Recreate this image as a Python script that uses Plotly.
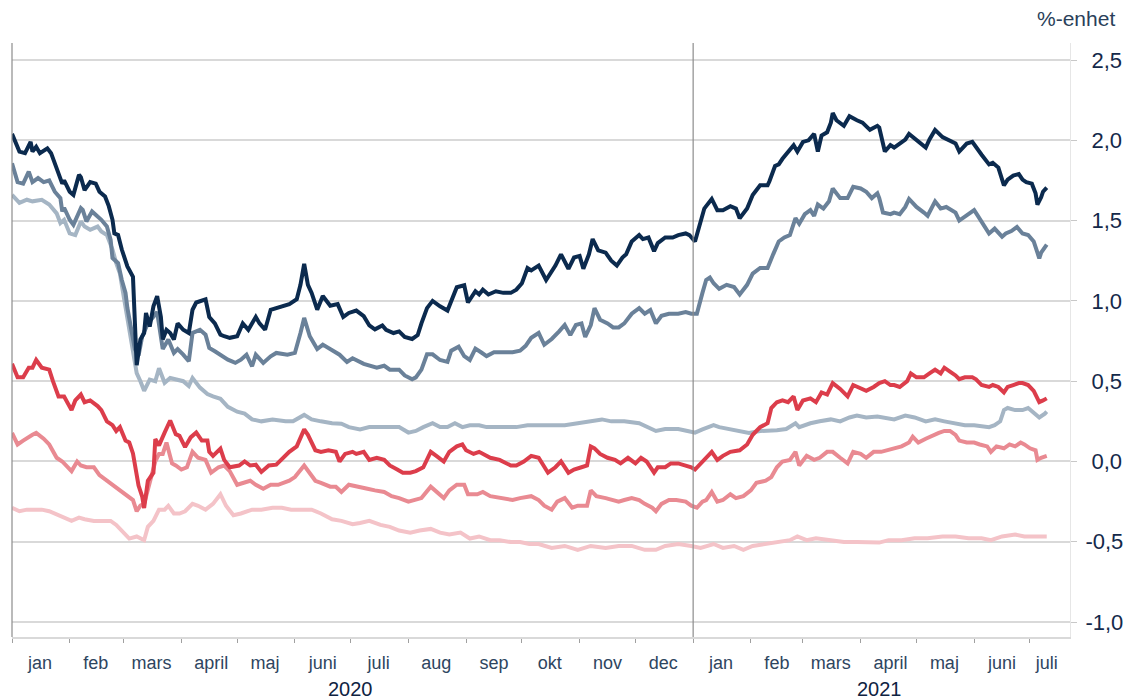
import pandas as pd
import plotly.graph_objects as go

START = pd.Timestamp("2020-01-01")
END = pd.Timestamp("2021-07-22 12:00")

# (days since 2020-01-01, value in %-enhet)
navy = [(0,2.04),(4,1.93),(7,1.92),(10,1.99),(11,1.93),(13,1.96),(15,1.92),(19,1.95),(21,1.92),(24,1.82),
(27,1.73),(28,1.75),(31,1.68),(33,1.66),(36,1.785),(37,1.77),(39,1.69),(42,1.74),(45,1.73),(47,1.68),
(50,1.65),(52,1.59),(54,1.505),(55,1.42),(57,1.41),(59,1.32),(61,1.256),(62,1.215),(65,1.15),(67,0.60),
(69,0.76),(71,0.80),(72,0.925),(74,0.84),(76,0.966),(78,1.03),(80,0.90),(81,0.76),(83,0.82),(85,0.80),
(87,0.76),(89,0.86),(92,0.82),(95,0.80),(97,0.945),(99,0.99),(104,1.01),(106,0.90),(109,0.86),(112,0.79),
(114,0.78),(117,0.77),(121,0.78),(124,0.86),(127,0.82),(131,0.90),(133,0.86),(136,0.82),(139,0.945),(142,0.955),
(146,0.97),(149,0.98),(153,1.01),(155,1.10),(157,1.23),(159,1.10),(161,1.05),(164,0.945),(167,1.03),(171,0.97),
(175,0.98),(178,0.90),(181,0.925),(185,0.94),(189,0.905),(192,0.847),(195,0.823),(199,0.847),(201,0.82),(205,0.80),
(208,0.81),(211,0.775),(215,0.763),(218,0.787),(220,0.86),(223,0.955),(226,1.0),(230,0.966),(234,0.94),(236,1.0),
(239,1.085),(243,1.097),(245,0.99),(249,1.06),(251,1.04),(253,1.07),(256,1.04),(260,1.06),(264,1.05),(268,1.05),
(271,1.07),(274,1.11),(277,1.205),(279,1.19),(283,1.22),(287,1.13),(292,1.22),(295,1.29),(299,1.20),(302,1.27),
(305,1.28),(307,1.20),(310,1.29),(312,1.385),(315,1.315),(319,1.30),(322,1.25),(325,1.22),(328,1.27),(330,1.29),
(333,1.37),(337,1.41),(339,1.385),(342,1.395),(345,1.31),(347,1.36),(351,1.395),(355,1.395),(358,1.41),(362,1.42),
(364,1.41),(367,1.37),(370,1.50),(372,1.575),(373,1.59),(376,1.635),(379,1.565),(382,1.565),(386,1.59),(389,1.575),
(391,1.515),(395,1.575),(398,1.66),(402,1.72),(406,1.72),(407,1.745),(410,1.84),(412,1.85),(414,1.885),(417,1.93),
(420,1.97),(422,1.93),(425,1.99),(428,2.0),(431,2.04),(433,1.93),(435,2.03),(438,2.05),(440,2.11),(441,2.17),
(443,2.125),(447,2.09),(450,2.15),(454,2.125),(457,2.11),(461,2.065),(465,2.09),(466,2.08),(469,1.93),(472,1.97),
(474,1.955),(477,1.98),(480,2.005),(482,2.04),(486,2.005),(491,1.955),(493,2.005),(496,2.065),(500,2.02),(503,2.005),
(507,1.98),(509,1.93),(513,1.98),(516,1.99),(518,1.955),(521,1.91),(525,1.85),(527,1.86),(530,1.83),(533,1.72),
(535,1.755),(538,1.78),(541,1.79),(543,1.755),(545,1.74),(548,1.73),(550,1.67),(551,1.60),(553,1.645),(554,1.68),
(556,1.705)]

slate = [(0,1.857),(3,1.74),(6,1.73),(9,1.805),(11,1.74),(14,1.765),(17,1.74),(20,1.75),(23,1.68),(26,1.64),
(27,1.557),(28,1.58),(31,1.505),(33,1.474),(37,1.578),(38,1.567),(40,1.495),(43,1.557),(46,1.525),(48,1.505),
(51,1.463),(53,1.38),(54,1.267),(57,1.235),(59,1.13),(61,1.05),(62,0.956),(64,0.84),(66,0.70),(68,0.66),
(70,0.78),(73,0.86),(76,0.90),(78,0.93),(81,0.70),(84,0.76),(87,0.676),(89,0.70),(92,0.665),(95,0.624),
(97,0.80),(101,0.82),(104,0.79),(106,0.707),(109,0.686),(113,0.655),(116,0.634),(120,0.614),(123,0.634),(126,0.665),
(129,0.593),(131,0.665),(135,0.614),(139,0.655),(142,0.676),(148,0.665),(152,0.676),(155,0.80),(157,0.894),(160,0.78),
(164,0.70),(167,0.728),(171,0.70),(176,0.665),(180,0.62),(183,0.643),(189,0.608),(192,0.596),(196,0.584),(200,0.596),
(203,0.572),(208,0.572),(211,0.536),(215,0.512),(217,0.524),(220,0.572),(223,0.667),(226,0.667),(230,0.632),(234,0.62),
(236,0.69),(240,0.715),(243,0.656),(246,0.632),(249,0.703),(252,0.68),(255,0.656),(259,0.68),(264,0.68),(269,0.68),
(273,0.69),(276,0.72),(279,0.77),(283,0.80),(286,0.727),(290,0.763),(294,0.81),(297,0.85),(300,0.787),(303,0.85),
(306,0.86),(308,0.775),(311,0.85),(313,0.955),(316,0.883),(320,0.86),(323,0.835),(326,0.835),(329,0.86),(333,0.92),
(337,0.955),(340,0.92),(343,0.943),(346,0.86),(349,0.907),(353,0.92),(358,0.92),(362,0.93),(365,0.92),(368,0.92),
(371,1.05),(373,1.13),(375,1.145),(377,1.11),(380,1.075),(384,1.10),(388,1.086),(391,1.04),(395,1.10),(398,1.17),
(402,1.205),(406,1.205),(409,1.29),(412,1.37),(415,1.395),(418,1.41),(421,1.515),(423,1.48),(426,1.54),(429,1.565),
(431,1.53),(433,1.60),(436,1.575),(439,1.62),(441,1.70),(445,1.64),(449,1.64),(452,1.71),(456,1.70),(459,1.68),
(462,1.64),(465,1.67),(466,1.64),(468,1.55),(472,1.54),(474,1.55),(477,1.54),(480,1.585),(482,1.635),(486,1.585),
(490,1.55),(492,1.53),(496,1.62),(499,1.575),(502,1.585),(507,1.55),(509,1.50),(513,1.53),(517,1.565),(519,1.53),
(523,1.46),(525,1.42),(528,1.45),(532,1.40),(534,1.42),(537,1.435),(540,1.46),(543,1.42),(546,1.41),(549,1.37),
(551,1.30),(552,1.265),(553,1.30),(555,1.335),(556,1.35)]

greyblue = [(0,1.66),(4,1.61),(8,1.63),(11,1.62),(16,1.63),(20,1.60),(24,1.545),(26,1.485),(28,1.505),(31,1.42),
(34,1.41),(37,1.495),(39,1.463),(42,1.443),(46,1.463),(48,1.432),(51,1.41),(54,1.32),(56,1.235),(58,1.17),
(60,1.03),(62,0.90),(63,0.80),(65,0.676),(67,0.55),(69,0.50),(71,0.44),(74,0.51),(77,0.50),(79,0.58),
(82,0.49),(85,0.52),(88,0.51),(92,0.50),(95,0.47),(97,0.52),(101,0.46),(105,0.42),(108,0.405),(112,0.39),
(116,0.34),(121,0.31),(125,0.298),(129,0.262),(134,0.25),(140,0.262),(147,0.25),(151,0.25),(157,0.29),(161,0.262),
(166,0.25),(172,0.238),(177,0.235),(181,0.214),(187,0.20),(192,0.214),(198,0.214),(203,0.214),(208,0.214),(213,0.18),
(217,0.19),(221,0.214),(226,0.238),(230,0.214),(234,0.214),(238,0.238),(242,0.214),(246,0.226),(251,0.226),(255,0.214),
(260,0.214),(266,0.214),(271,0.214),(277,0.226),(283,0.226),(290,0.226),(297,0.226),(304,0.238),(311,0.25),(317,0.262),
(322,0.25),(329,0.25),(337,0.238),(342,0.214),(346,0.19),(351,0.202),(358,0.202),(363,0.19),(367,0.18),(371,0.20),
(377,0.226),(380,0.214),(386,0.202),(391,0.19),(396,0.178),(402,0.19),(407,0.19),(411,0.195),(416,0.202),(421,0.238),
(423,0.214),(429,0.238),(434,0.25),(440,0.262),(445,0.25),(450,0.274),(454,0.286),(459,0.274),(465,0.28),(469,0.274),
(474,0.262),(480,0.286),(485,0.274),(491,0.25),(496,0.262),(501,0.25),(507,0.238),(512,0.226),(517,0.226),(525,0.214),
(528,0.226),(531,0.25),(533,0.32),(535,0.333),(539,0.32),(543,0.32),(546,0.333),(550,0.298),(552,0.274),(555,0.298),
(556,0.31)]

red = [(0,0.608),(3,0.524),(6,0.524),(9,0.584),(11,0.584),(13,0.632),(16,0.584),(20,0.572),(22,0.50),(25,0.405),
(28,0.405),(30,0.357),(32,0.32),(34,0.38),(37,0.417),(39,0.369),(42,0.38),(46,0.345),(48,0.32),(51,0.25),
(54,0.226),(56,0.19),(58,0.214),(61,0.13),(63,0.118),(65,0.05),(67,-0.10),(68,-0.15),(70,-0.22),(71,-0.29),
(73,-0.12),(74,-0.10),(76,-0.07),(77,0.14),(79,0.10),(82,0.18),(85,0.255),(88,0.17),(90,0.16),(93,0.09),
(96,0.15),(99,0.18),(102,0.13),(105,0.13),(106,0.06),(108,0.035),(112,0.08),(114,0.01),(117,-0.036),(122,-0.025),
(125,0.0),(128,-0.025),(131,-0.02),(134,-0.065),(138,-0.025),(142,-0.02),(146,0.023),(149,0.06),(153,0.094),(157,0.20),
(159,0.166),(163,0.07),(166,0.06),(170,0.07),(174,0.06),(176,0.0),(179,0.047),(183,0.06),(185,0.047),(189,0.06),
(192,0.01),(196,0.023),(200,0.01),(203,-0.025),(207,-0.05),(210,-0.07),(214,-0.07),(217,-0.06),(221,-0.036),(225,0.06),
(228,0.035),(232,0.0),(235,0.06),(239,0.094),(242,0.106),(244,0.07),(248,0.047),(251,0.06),(257,0.023),(262,0.01),
(268,-0.025),(271,-0.025),(275,0.0),(279,0.035),(283,0.023),(288,-0.07),(292,-0.036),(295,0.0),(299,-0.07),(302,-0.05),
(306,-0.036),(309,-0.025),(311,0.094),(313,0.082),(316,0.047),(320,0.023),(324,0.01),(327,-0.012),(331,0.023),(335,-0.012),
(338,0.023),(341,0.0),(345,-0.07),(347,-0.036),(351,-0.036),(354,-0.012),(358,-0.012),(362,-0.025),(365,-0.036),(367,-0.05),
(371,0.0),(373,0.023),(376,0.06),(379,0.01),(382,0.035),(386,0.06),(391,0.07),(395,0.106),(398,0.166),(402,0.214),
(406,0.238),(408,0.333),(411,0.369),(414,0.38),(417,0.369),(420,0.405),(422,0.32),(425,0.38),(429,0.393),(432,0.369),
(435,0.43),(438,0.417),(441,0.488),(445,0.452),(449,0.405),(452,0.476),(456,0.452),(459,0.44),(463,0.464),(466,0.488),
(469,0.50),(472,0.476),(474,0.476),(477,0.464),(481,0.50),(483,0.548),(486,0.524),(490,0.524),(493,0.548),(496,0.572),
(499,0.548),(501,0.584),(504,0.56),(507,0.536),(509,0.512),(512,0.524),(516,0.524),(518,0.512),(521,0.476),(525,0.464),
(527,0.476),(530,0.464),(533,0.43),(535,0.464),(538,0.476),(541,0.488),(543,0.488),(546,0.476),(549,0.44),(551,0.393),
(552,0.37),(554,0.38),(556,0.393)]

pink = [(0,0.178),(3,0.106),(6,0.13),(9,0.154),(11,0.166),(13,0.178),(17,0.142),(20,0.106),(24,0.023),(27,0.0),
(29,-0.025),(32,-0.06),(35,0.0),(37,-0.025),(40,-0.036),(44,-0.036),(47,-0.085),(51,-0.12),(54,-0.145),(58,-0.18),
(62,-0.216),(65,-0.24),(67,-0.31),(69,-0.275),(71,-0.264),(74,-0.12),(77,0.0),(79,0.047),(81,0.047),(83,0.118),
(86,-0.012),(88,-0.025),(91,-0.05),(94,-0.036),(97,0.06),(100,0.023),(104,0.01),(107,-0.07),(111,-0.036),(114,-0.025),
(117,-0.06),(121,-0.145),(124,-0.133),(128,-0.12),(131,-0.145),(135,-0.17),(139,-0.145),(143,-0.145),(149,-0.12),(152,-0.097),
(157,-0.025),(159,-0.06),(163,-0.12),(166,-0.133),(171,-0.157),(174,-0.157),(177,-0.19),(181,-0.145),(185,-0.157),(191,-0.17),
(195,-0.18),(200,-0.19),(204,-0.216),(208,-0.228),(213,-0.25),(217,-0.24),(220,-0.228),(225,-0.157),(228,-0.19),(232,-0.228),
(235,-0.18),(239,-0.145),(243,-0.145),(245,-0.204),(250,-0.204),(253,-0.19),(257,-0.216),(264,-0.228),(269,-0.24),(273,-0.228),
(279,-0.216),(283,-0.24),(286,-0.275),(290,-0.30),(293,-0.25),(297,-0.228),(301,-0.288),(304,-0.275),(309,-0.275),(311,-0.18),
(314,-0.216),(319,-0.228),(322,-0.24),(326,-0.25),(329,-0.24),(333,-0.228),(337,-0.24),(340,-0.264),(344,-0.288),(346,-0.31),
(349,-0.264),(353,-0.24),(357,-0.24),(362,-0.25),(365,-0.275),(368,-0.288),(371,-0.25),(373,-0.24),(376,-0.19),(379,-0.25),
(382,-0.24),(386,-0.204),(389,-0.228),(393,-0.216),(397,-0.18),(400,-0.133),(405,-0.12),(408,-0.097),(411,-0.036),(414,0.0),
(418,0.01),(421,0.06),(423,-0.025),(427,0.035),(431,0.01),(434,0.023),(438,0.06),(441,0.06),(445,0.023),(449,-0.012),
(452,0.06),(456,0.047),(459,0.023),(463,0.06),(467,0.06),(471,0.07),(474,0.082),(478,0.094),(482,0.118),(484,0.154),
(487,0.118),(491,0.142),(495,0.166),(498,0.178),(501,0.19),(504,0.19),(507,0.166),(509,0.13),(513,0.118),(517,0.118),
(520,0.106),(524,0.094),(526,0.06),(529,0.094),(533,0.082),(536,0.106),(539,0.094),(542,0.118),(544,0.106),(547,0.082),
(550,0.07),(551,0.01),(553,0.023),(556,0.035)]

lightpink = [(0,-0.288),(4,-0.31),(8,-0.30),(11,-0.30),(16,-0.30),(20,-0.31),(25,-0.335),(29,-0.36),(32,-0.37),(36,-0.35),
(39,-0.36),(44,-0.37),(48,-0.37),(53,-0.37),(56,-0.395),(60,-0.443),(63,-0.48),(67,-0.467),(71,-0.49),(73,-0.407),
(76,-0.37),(79,-0.30),(82,-0.30),(84,-0.276),(87,-0.324),(90,-0.324),(93,-0.31),(97,-0.264),(100,-0.276),(104,-0.30),
(108,-0.264),(112,-0.204),(115,-0.276),(119,-0.335),(123,-0.324),(129,-0.30),(134,-0.30),(140,-0.288),(145,-0.288),(150,-0.30),
(156,-0.30),(161,-0.30),(166,-0.324),(172,-0.36),(177,-0.37),(183,-0.39),(187,-0.383),(192,-0.37),(198,-0.395),(203,-0.407),
(208,-0.43),(214,-0.443),(219,-0.43),(225,-0.42),(230,-0.443),(235,-0.455),(241,-0.443),(246,-0.48),(251,-0.467),(257,-0.49),
(262,-0.49),(268,-0.502),(273,-0.502),(278,-0.514),(283,-0.514),(290,-0.538),(297,-0.526),(304,-0.55),(311,-0.526),(319,-0.538),
(326,-0.526),(333,-0.526),(340,-0.55),(346,-0.55),(351,-0.526),(358,-0.514),(365,-0.526),(370,-0.538),(377,-0.514),(382,-0.538),
(388,-0.526),(393,-0.55),(398,-0.526),(406,-0.514),(413,-0.502),(418,-0.49),(422,-0.467),(427,-0.49),(432,-0.478),(440,-0.49),
(447,-0.502),(454,-0.502),(461,-0.502),(466,-0.505),(471,-0.49),(478,-0.49),(485,-0.478),(492,-0.478),(500,-0.467),(507,-0.467),
(514,-0.478),(521,-0.478),(526,-0.49),(532,-0.467),(539,-0.455),(544,-0.467),(550,-0.467),(556,-0.467)]

month_labels = ["jan", "feb", "mars", "april", "maj", "juni", "juli", "aug", "sep", "okt", "nov", "dec",
                "jan", "feb", "mars", "april", "maj", "juni", "juli"]
month_label_dates = ["2020-01-16", "2020-02-15", "2020-03-16", "2020-04-17", "2020-05-16", "2020-06-16",
                     "2020-07-16", "2020-08-16", "2020-09-16", "2020-10-16", "2020-11-16", "2020-12-16",
                     "2021-01-16", "2021-02-15", "2021-03-16", "2021-04-17", "2021-05-16", "2021-06-16",
                     "2021-07-10"]
year_labels = ["2020", "2021"]
year_label_dates = ["2020-07-01", "2021-04-11"]
y_ticks = [-1.0, -0.5, 0.0, 0.5, 1.0, 1.5, 2.0, 2.5]
y_ticktext = ["-1,0", "-0,5", "\u00a00,0", "\u00a00,5", "\u00a01,0", "\u00a01,5", "\u00a02,0", "\u00a02,5"]
unit_label = "%-enhet"

series = [
    (lightpink, "#f4c3c8"),
    (pink, "#e98a92"),
    (greyblue, "#a5b5c4"),
    (red, "#dc3d4b"),
    (slate, "#6a8199"),
    (navy, "#0b2a4e"),
]

fig = go.Figure()
for data, color in series:
    days = [d for d, _ in data]
    vals = [v for _, v in data]
    dates = START + pd.to_timedelta(days, unit="D")
    fig.add_trace(go.Scatter(x=dates, y=vals, mode="lines",
                             line=dict(color=color, width=4), hoverinfo="skip"))

fig.update_layout(
    width=1127, height=699,
    margin=dict(l=12, r=57, t=43, b=62, pad=0, autoexpand=False),
    paper_bgcolor="white", plot_bgcolor="white",
    showlegend=False,
    font=dict(family="Liberation Sans, Arial, sans-serif", color="#1d3250"),
)
fig.update_xaxes(
    type="date", range=[START, END], automargin=False,
    tickmode="array", tickvals=month_label_dates, ticktext=month_labels,
    ticks="outside", ticklen=9, tickcolor="rgba(0,0,0,0)",
    tickfont=dict(size=18, color="#2e4560"),
    showgrid=False, zeroline=False,
    showline=True, linecolor="#d9d9d9", linewidth=1.5,
    minor=dict(ticks="outside", ticklen=4, tickcolor="#a0a0a0", tickwidth=1,
               dtick="M1", tick0="2020-01-01", showgrid=False),
)
fig.update_yaxes(
    side="right", range=[-1.093, 2.606], automargin=False,
    tickmode="array", tickvals=y_ticks, ticktext=y_ticktext,
    ticks="outside", ticklen=6, tickcolor="#c8c8c8",
    ticklabelstandoff=4,
    tickfont=dict(size=22, color="#14294a"),
    showgrid=True, gridcolor="#d9d9d9", gridwidth=1.5,
    zeroline=False, showline=True, linecolor="#e6e6e6", linewidth=1,
)
# left border and year separator
fig.add_shape(type="line", xref="paper", yref="paper", x0=0, x1=0, y0=0, y1=1,
              line=dict(color="#8c8c8c", width=1.2))
fig.add_shape(type="line", xref="x", yref="paper", x0="2021-01-01", x1="2021-01-01", y0=0, y1=1,
              line=dict(color="#8c8c8c", width=1.2))

for lab, d in zip(year_labels, year_label_dates):
    fig.add_annotation(x=d, xref="x", y=-0.088, yref="paper", text=lab, showarrow=False,
                       xanchor="center", yanchor="middle", font=dict(size=20, color="#0f2342"))
fig.add_annotation(x=1.0445, xref="paper", y=1.042, yref="paper", text=unit_label, showarrow=False,
                   xanchor="right", yanchor="middle", font=dict(size=21, color="#2a3f5a"))

fig.write_html("out.html", config={"displayModeBar": False},
               post_script="document.body.style.margin='0';")
